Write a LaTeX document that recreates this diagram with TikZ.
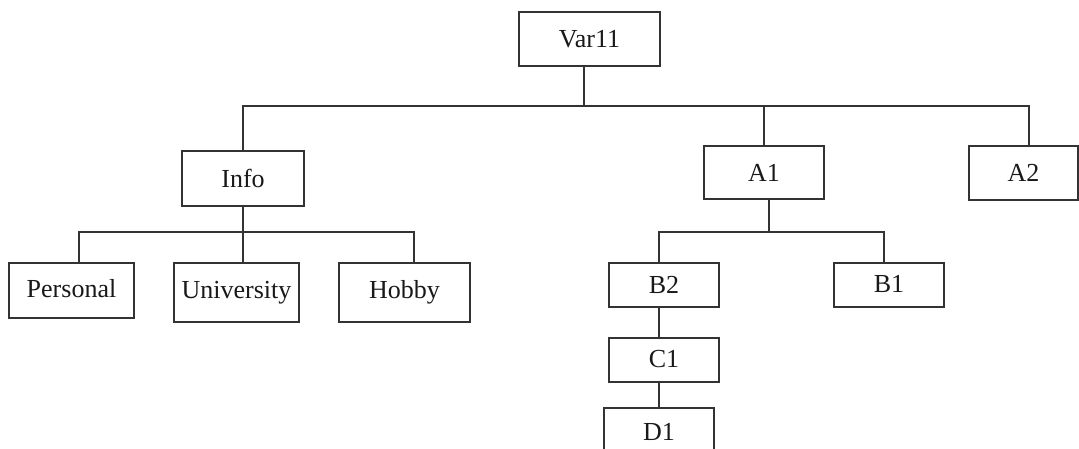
\documentclass[tikz,border=0pt]{standalone}
\usepackage{fontspec}
\setmainfont{Liberation Serif}
\begin{document}
\begin{tikzpicture}[x=1pt,y=-1pt,
  box/.style={draw=black!80,line width=1.3pt,inner sep=0pt,font=\fontsize{26}{30}\selectfont,text=black!90},
  conn/.style={draw=black!80,line width=1.3pt}]
\useasboundingbox (0,0) rectangle (1079,448);
\clip (0,0) rectangle (1079,448);
\node[box,minimum width=141pt,minimum height=54pt] (var) at (589.5,39) {Var11};
\node[box,minimum width=122pt,minimum height=55pt] (info) at (243,178.5) {Info};
\node[box,minimum width=120pt,minimum height=53pt] (a1) at (764,172.5) {A1};
\node[box,minimum width=109pt,minimum height=54pt] (a2) at (1023.5,173) {A2};
\node[box,minimum width=125pt,minimum height=55pt] (personal) at (71.5,290.5) {\raisebox{4pt}{Personal}};
\node[box,minimum width=125pt,minimum height=59pt] (university) at (236.5,292.5) {University};
\node[box,minimum width=131pt,minimum height=59pt] (hobby) at (404.5,292.5) {Hobby};
\node[box,minimum width=110pt,minimum height=44pt] (b2) at (664,285) {\raisebox{-4pt}{B2}};
\node[box,minimum width=110pt,minimum height=44pt] (b1) at (889,285) {\raisebox{1.5pt}{B1}};
\node[box,minimum width=110pt,minimum height=44pt] (c1) at (664,360) {\raisebox{1.5pt}{C1}};
\node[box,minimum width=110pt,minimum height=48pt] (d1) at (659,432) {D1};
\coordinate (bus1) at (584,106);
\coordinate (bus2) at (243,232);
\coordinate (bus3) at (769,232);
% level 1
\draw[conn] ([xshift=-5.5pt]var.south) -- ([xshift=-5.5pt]var.south |- bus1);
\draw[conn] (info.north) -- (info.north |- bus1) -- ([xshift=5.5pt]a2.north |- bus1) -- ([xshift=5.5pt]a2.north);
\draw[conn] (a1.north) -- (a1.north |- bus1);
% info children
\draw[conn] (info.south) -- (info.south |- bus2);
\draw[conn] ([xshift=7.5pt]personal.north) -- ([xshift=7.5pt]personal.north |- bus2) -- ([xshift=9.5pt]hobby.north |- bus2) -- ([xshift=9.5pt]hobby.north);
\draw[conn] ([xshift=6.5pt]university.north) -- ([xshift=6.5pt]university.north |- bus2);
% a1 children
\draw[conn] ([xshift=5pt]a1.south) -- ([xshift=5pt]a1.south |- bus3);
\draw[conn] ([xshift=-5pt]b2.north) -- ([xshift=-5pt]b2.north |- bus3) -- ([xshift=-5pt]b1.north |- bus3) -- ([xshift=-5pt]b1.north);
\draw[conn] ([xshift=-5pt]b2.south) -- ([xshift=-5pt]c1.north);
\draw[conn] ([xshift=-5pt]c1.south) -- (d1.north);
\end{tikzpicture}
\end{document}
